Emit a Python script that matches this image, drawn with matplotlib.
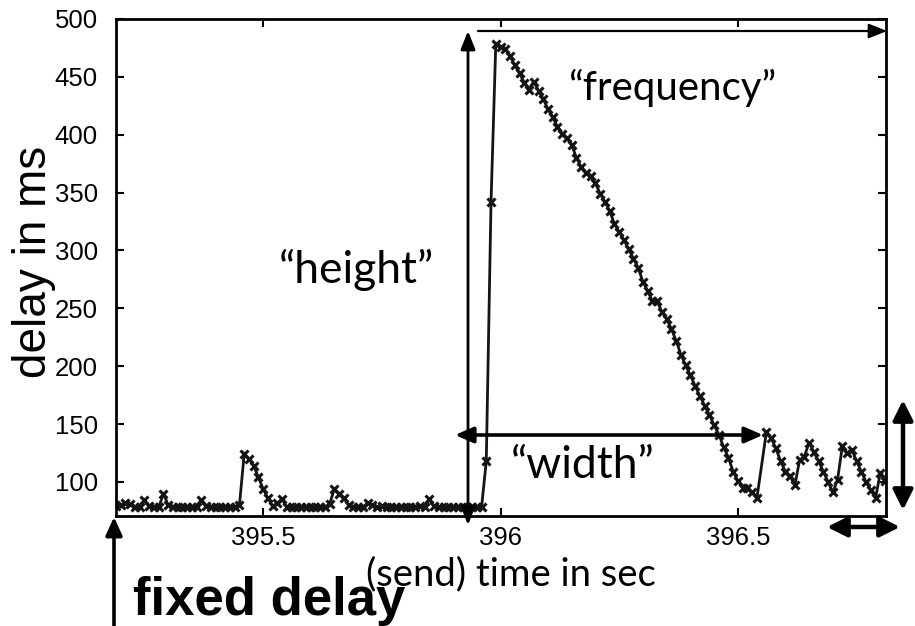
import matplotlib
matplotlib.use("Agg")
import matplotlib.pyplot as plt
from matplotlib.patches import FancyArrowPatch, ArrowStyle

# probe packets: send time (s) and measured one-way delay (ms)
send_time = [
    395.19,
    395.20, 395.21, 395.22, 395.23, 395.24, 395.25, 395.26, 395.27, 395.28, 395.29,
    395.30, 395.31, 395.32, 395.33, 395.34, 395.35, 395.36, 395.37, 395.38, 395.39,
    395.40, 395.41, 395.42, 395.43, 395.44, 395.45, 395.46, 395.47, 395.48, 395.49,
    395.50, 395.51, 395.52, 395.53, 395.54, 395.55, 395.56, 395.57, 395.58, 395.59,
    395.60, 395.61, 395.62, 395.63, 395.64, 395.65, 395.66, 395.67, 395.68, 395.69,
    395.70, 395.71, 395.72, 395.73, 395.74, 395.75, 395.76, 395.77, 395.78, 395.79,
    395.80, 395.81, 395.82, 395.83, 395.84, 395.85, 395.86, 395.87, 395.88, 395.89,
    395.90, 395.91, 395.92, 395.93, 395.94, 395.95, 395.96, 395.97, 395.98, 395.99,
    396.00, 396.01, 396.02, 396.03, 396.04, 396.05, 396.06, 396.07, 396.08, 396.09,
    396.10, 396.11, 396.12, 396.13, 396.14, 396.15, 396.16, 396.17, 396.18, 396.19,
    396.20, 396.21, 396.22, 396.23, 396.24, 396.25, 396.26, 396.27, 396.28, 396.29,
    396.30, 396.31, 396.32, 396.33, 396.34, 396.35, 396.36, 396.37, 396.38, 396.39,
    396.40, 396.41, 396.42, 396.43, 396.44, 396.45, 396.46, 396.47, 396.48, 396.49,
    396.50, 396.51, 396.52, 396.53, 396.54, 396.56, 396.57, 396.58, 396.59,
    396.60, 396.61, 396.62, 396.63, 396.64, 396.65, 396.66, 396.67, 396.68, 396.69,
    396.70, 396.71, 396.72, 396.73, 396.74, 396.75, 396.76, 396.77, 396.78, 396.79,
    396.80, 396.81,
]
delay_ms = [
    79,
    80, 82, 81, 78, 78, 84, 79, 78, 78, 90,
    80, 78, 78, 78, 78, 78, 78, 84, 79, 78,
    78, 78, 78, 78, 78, 80, 124, 120, 114, 104,
    94, 86, 79, 82, 85, 78, 78, 78, 78, 78,
    78, 78, 78, 78, 81, 94, 90, 86, 80, 78,
    78, 78, 82, 80, 78, 79, 78, 78, 78, 78,
    78, 78, 78, 79, 78, 85, 79, 78, 78, 78,
    78, 78, 78, 78, 78, 78, 78, 118, 342, 478,
    476, 474, 468, 460, 453, 445, 439, 446, 438, 431,
    422, 415, 407, 401, 397, 391, 380, 372, 367, 364,
    358, 349, 342, 334, 323, 316, 309, 301, 293, 285,
    273, 265, 256, 256, 247, 241, 232, 222, 210, 201,
    192, 183, 174, 166, 158, 149, 141, 130, 121, 109,
    101, 95, 95, 91, 86, 143, 138, 129, 118,
    109, 105, 97, 119, 122, 134, 126, 118, 109, 100,
    91, 102, 131, 125, 128, 118, 109, 100, 93, 86,
    108, 101,
]

x_ticks = [395.5, 396.0, 396.5]
x_tick_labels = ["395.5", "396", "396.5"]
y_ticks = [100, 150, 200, 250, 300, 350, 400, 450, 500]
y_tick_labels = [str(v) for v in y_ticks]

W, H = 915, 626
fig = plt.figure(figsize=(W / 100, H / 100), dpi=100)


def fpos(x, y):
    """Pixel position (origin top-left) -> figure fraction."""
    return (x / W, 1 - y / H)


ax = fig.add_axes([116 / W, 1 - 516 / H, (886 - 116) / W, (516 - 19) / H])
ax.plot(send_time, delay_ms, color="#141414", lw=2.0,
        marker="x", ms=6, mew=2.2)
ax.set_xlim(395.19, 396.812)
ax.set_ylim(70.6, 500)
ax.set_xticks(x_ticks)
ax.set_xticklabels(x_tick_labels)
ax.set_yticks(y_ticks)
ax.set_yticklabels(y_tick_labels)
tick_font = ["Liberation Sans", "DejaVu Sans"]
for lab in ax.get_xticklabels() + ax.get_yticklabels():
    lab.set_family(tick_font)
ax.tick_params(direction="in", length=6, width=1.5, top=True, right=True,
               labelsize=18.5, colors="black")
ax.tick_params(axis="y", pad=13)
ax.tick_params(axis="x", pad=7)
for s in ax.spines.values():
    s.set_linewidth(2)
    s.set_color("black")

fig.text(*fpos(34, 262), "delay in ms", rotation=90, ha="center", va="center",
         fontsize=33, family=["Liberation Sans", "DejaVu Sans"])

quote_font = ["Lato", "DejaVu Sans"]
fig.text(*fpos(672, 88), "\u201cfrequency\u201d", ha="center", va="center",
         fontsize=29, family=quote_font)
fig.text(*fpos(356, 270), "\u201cheight\u201d", ha="center", va="center",
         fontsize=32, family=quote_font)
fig.text(*fpos(583, 466), "\u201cwidth\u201d", ha="center", va="center",
         fontsize=32, family=quote_font)
fig.text(*fpos(511, 574), "(send) time in sec", ha="center", va="center",
         fontsize=27.5, family=quote_font)
fig.text(*fpos(133, 601), "fixed delay", ha="left", va="center",
         fontsize=38, fontweight="bold",
         family=["Liberation Sans", "DejaVu Sans"])


def arrow(p0, p1, style, lw, hl, hw, ms=20):
    if style == "double":
        st = ArrowStyle("<|-|>", head_length=hl, head_width=hw)
    else:
        st = ArrowStyle("-|>", head_length=hl, head_width=hw)
    fig.add_artist(FancyArrowPatch(fpos(*p0), fpos(*p1),
                                   transform=fig.transFigure, arrowstyle=st,
                                   lw=lw, mutation_scale=ms, color="black",
                                   shrinkA=0, shrinkB=0, clip_on=False))


# "height"
arrow((468, 525), (468, 31), "double", 2.0, 0.55, 0.22)
# "frequency"
arrow((478, 31), (887, 31), "single", 1.6, 0.55, 0.22)
# "width"
arrow((455, 435), (763, 435), "double", 2.6, 0.55, 0.24)
# right-hand thick arrows
arrow((903, 400), (903, 510), "double", 3.2, 0.6, 0.3)
arrow((827, 527), (900, 527), "double", 3.2, 0.6, 0.3)
# fixed delay
arrow((114, 626), (114, 517), "single", 2.6, 0.55, 0.25)

fig.savefig("out.png", dpi=100)
